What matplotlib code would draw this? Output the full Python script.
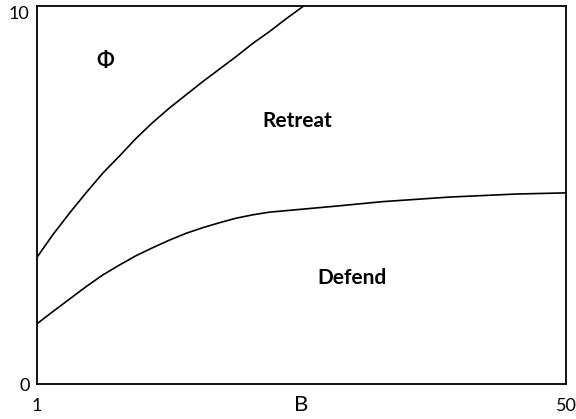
import matplotlib
matplotlib.use('Agg')
import matplotlib.pyplot as plt

# boundary between the Phi region and Retreat
upper_b = [1.0, 2.50, 4.04, 5.58, 7.13, 8.66, 10.21, 11.75, 13.29, 14.83,
           16.38, 17.92, 19.46, 21.01, 22.54, 24.09, 25.63]
upper_y = [3.34, 3.95, 4.52, 5.06, 5.58, 6.03, 6.50, 6.92, 7.30, 7.65,
           8.00, 8.33, 8.66, 9.01, 9.32, 9.66, 9.98]

# boundary between Retreat and Defend
lower_b = [1.0, 2.50, 4.04, 5.58, 7.13, 8.66, 10.21, 11.75, 13.29, 14.83,
           16.38, 17.92, 19.46, 21.01, 22.54, 25.63, 28.72, 33.1, 39.27,
           45.44, 50.0]
lower_y = [1.59, 1.92, 2.25, 2.58, 2.89, 3.15, 3.40, 3.61, 3.81, 3.99,
           4.14, 4.27, 4.39, 4.48, 4.55, 4.63, 4.71, 4.83, 4.95,
           5.03, 5.06]

regions = ['\u03a6', 'Retreat', 'Defend']
region_b = [7.34, 25.1, 30.2]
region_y = [8.55, 6.97, 2.80]

plt.rcParams['font.family'] = ['Lato', 'DejaVu Sans']

fig = plt.figure(figsize=(5.76, 4.19), dpi=100)
ax = fig.add_axes([0.0634, 0.0828, 0.9192, 0.9029])

ax.plot(upper_b, upper_y, color='black', linewidth=1.2)
ax.plot(lower_b, lower_y, color='black', linewidth=1.2)

for name, b, y in zip(regions, region_b, region_y):
    ax.text(b, y, name, ha='center', va='center', fontsize=15, fontweight='bold')

ax.set_xlim(1, 50)
ax.set_ylim(0, 10)
ax.set_xticks([1, 50])
ax.set_yticks([0, 10])
ax.tick_params(length=0, labelsize=13)
ax.tick_params(axis='x', pad=10)
ax.tick_params(axis='y', pad=5)
ax.get_yticklabels()[1].set_va('top')
ax.set_xlabel('B', fontsize=16, va='center')
ax.xaxis.set_label_coords(0.5, -0.056)

for s in ax.spines.values():
    s.set_linewidth(1.3)

fig.savefig('out.png', dpi=100)
